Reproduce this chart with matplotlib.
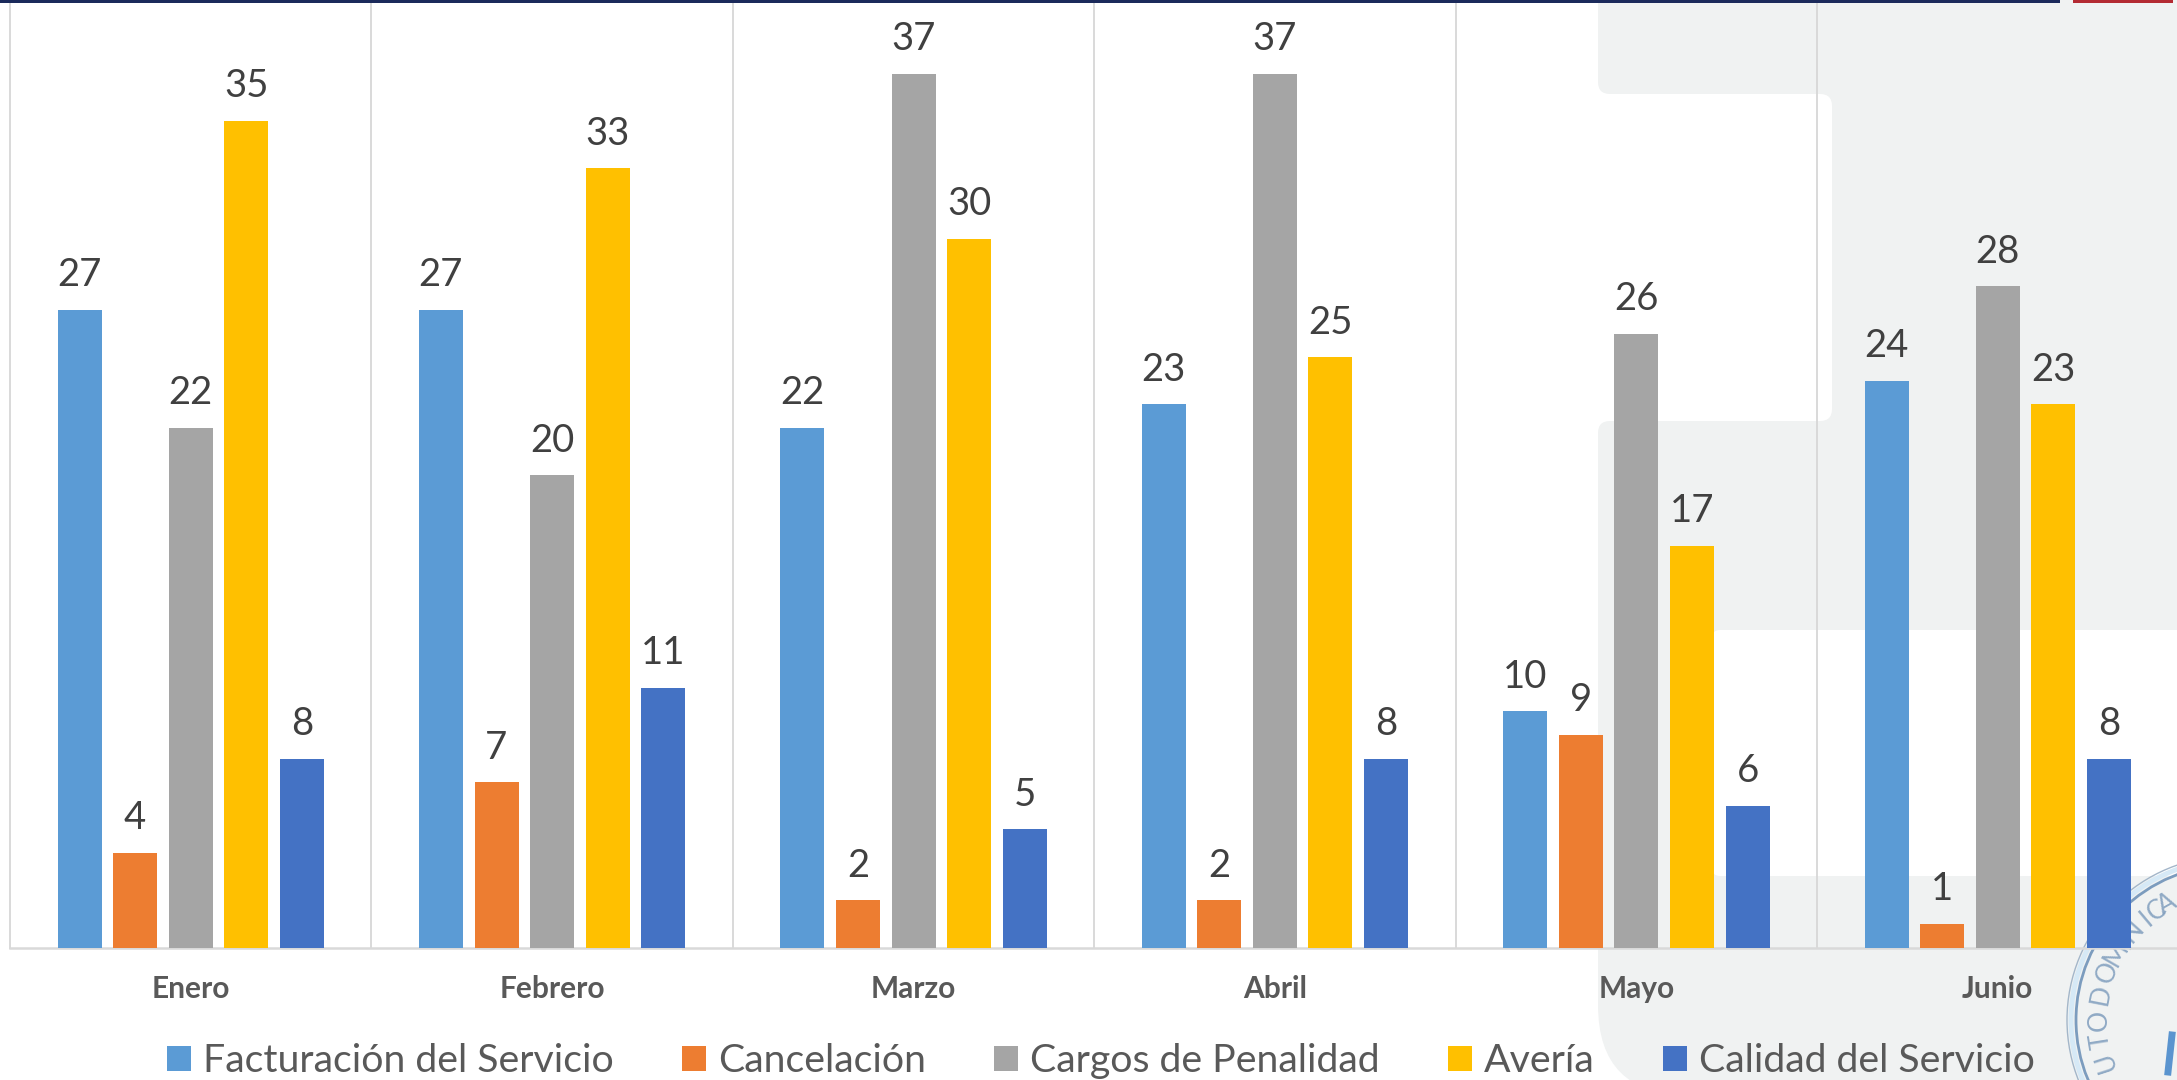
import numpy as np
import matplotlib
matplotlib.use("Agg")
import matplotlib.pyplot as plt
from matplotlib.path import Path
from matplotlib.patches import PathPatch, Circle, Rectangle
from matplotlib.transforms import Affine2D

months = ["Enero", "Febrero", "Marzo", "Abril", "Mayo", "Junio"]
facturacion = [27, 27, 22, 23, 10, 24]
cancelacion = [4, 7, 2, 2, 9, 1]
cargos = [22, 20, 37, 37, 26, 28]
averia = [35, 33, 30, 25, 17, 23]
calidad = [8, 11, 5, 8, 6, 8]
series_names = ["Facturación del Servicio", "Cancelación", "Cargos de Penalidad", "Avería", "Calidad del Servicio"]
series_colors = ["#5B9BD5", "#ED7D31", "#A5A5A5", "#FFC000", "#4472C4"]

W, H = 2177, 1080
plt.rcParams["font.family"] = ["Lato", "DejaVu Sans"]
fig = plt.figure(figsize=(W / 100, H / 100), dpi=100, facecolor="white")
px = Affine2D().scale(1 / W, -1 / H).translate(0, 1) + fig.transFigure

# axes geometry (pixels)
L, R_, T, B = 10, 2177, 3, 947.5
cat_w = 361.4
ax = fig.add_axes([L / W, 1 - B / H, (R_ - L) / W, (B - T) / H])
ax.patch.set_alpha(0)
ax.set_xlim(-0.5, -0.5 + (R_ - L) / cat_w)
ax.set_ylim(0, 40)


def rounded(verts, radii):
    codes, pts = [], []
    n = len(verts)
    for i in range(n):
        p = np.array(verts[i], float)
        a = np.array(verts[i - 1], float)
        b = np.array(verts[(i + 1) % n], float)
        r = radii[i]
        u = (a - p) / np.linalg.norm(a - p)
        v = (b - p) / np.linalg.norm(b - p)
        pts += [p + u * r, p, p + v * r]
        codes += [Path.LINETO if i else Path.MOVETO, Path.CURVE3, Path.CURVE3]
    pts.append(pts[0])
    codes.append(Path.CLOSEPOLY)
    return Path(pts, codes)


# pale background panel
panel = rounded(
    [(1598, -5), (2190, -5), (2190, 630), (1712, 630), (1712, 876), (2190, 876),
     (2190, 1095), (1598, 1095), (1598, 421), (1832, 421), (1832, 94), (1598, 94)],
    [1, 1, 1, 8, 8, 1, 1, 90, 12, 12, 12, 12],
)
fig.add_artist(PathPatch(panel, transform=px, facecolor="#F0F2F2", edgecolor="none", zorder=-3))

# stamp
cx, cy = 2231, 1020
fig.add_artist(Circle((cx, cy), 164, transform=px, fill=False, ec="#A3B6C9", lw=1.0, zorder=-2))
fig.add_artist(Circle((cx, cy), 160, transform=px, fill=False, ec="#D6E9F6", lw=3.5, zorder=-2))
fig.add_artist(Circle((cx, cy), 155, transform=px, fill=False, ec="#7C9CBE", lw=2.0, zorder=-2))
letters = [("U", -18), ("T", -9), ("O", 0), ("D", 11), ("O", 21), ("M", 30), ("I", 36),
           ("N", 42), ("I", 50), ("C", 56), ("A", 61)]
for ch, a in letters:
    t = np.deg2rad(a)
    x0 = cx - 132 * np.cos(t)
    y0 = cy - 132 * np.sin(t)
    fig.text(x0, y0, ch, transform=px, ha="center", va="center", rotation=90 - a, fontsize=19,
             color="#7F9DBD", alpha=0.85, zorder=-2)
fig.add_artist(plt.Line2D([2172, 2168], [1035, 1072], transform=px, color="#5A94CF", lw=5, zorder=-2))

# top rule
fig.add_artist(Rectangle((0, 0), 2060, 3, transform=px, facecolor="#1B2A5B", edgecolor="none", zorder=5))
fig.add_artist(Rectangle((2073, 0), 100, 3, transform=px, facecolor="#B32B33", edgecolor="none", zorder=5))

# bars
series = [facturacion, cancelacion, cargos, averia, calidad]
x = np.arange(len(months))
bar_w, pitch = 44 / cat_w, 55.6 / cat_w
handles = []
for i, (vals, col, name) in enumerate(zip(series, series_colors, series_names)):
    bars = ax.bar(x + (i - 2) * pitch, vals, bar_w, color=col, label=name, zorder=3)
    handles.append(bars)
    ax.bar_label(bars, padding=12, fontsize=27.5, color="#404040", zorder=4)

# axes furniture
for s in ("top", "right"):
    ax.spines[s].set_visible(False)
ax.spines["left"].set_color("#D9D9D9")
ax.spines["left"].set_linewidth(1.4)
ax.spines["bottom"].set_color("#D9D9D9")
ax.spines["bottom"].set_linewidth(1.8)
ax.set_yticks([])
ax.set_xticks(x)
ax.set_xticklabels(months, fontsize=21.5, fontweight="bold", color="#595959")
ax.tick_params(axis="x", length=0, pad=20)
ax.set_xticks(x[:-1] + 0.5, minor=True)
ax.tick_params(axis="x", which="minor", length=0)
ax.grid(axis="x", which="minor", color="#D9D9D9", lw=1.4, zorder=1)
ax.set_axisbelow(True)

leg = fig.legend(
    handles=handles, labels=series_names, ncol=5, loc="lower left",
    bbox_to_anchor=(167 / W, 1 - 1079 / H), frameon=False, fontsize=28.3,
    labelcolor="#595959", borderpad=0, borderaxespad=0,
    handlelength=0.61, handleheight=0.61, handletextpad=0.3, columnspacing=1.74,
)

fig.savefig("out.png", dpi=100)
